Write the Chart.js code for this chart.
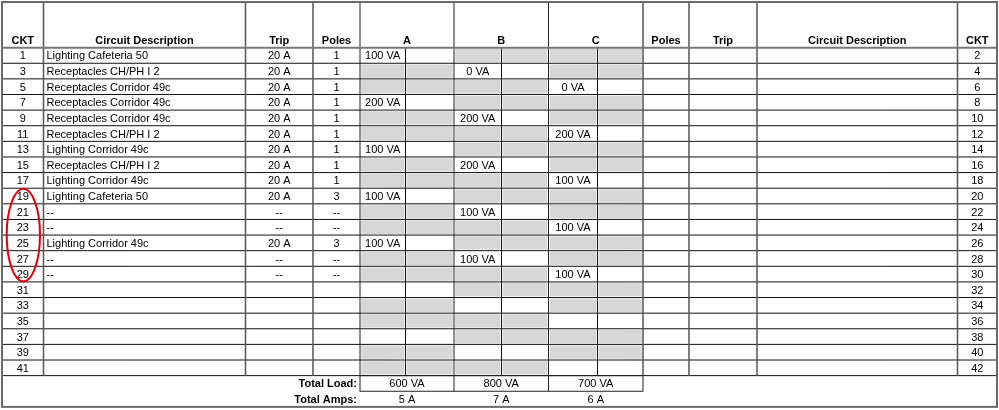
<!DOCTYPE html>
<html lang="en">
<head>
    <meta charset="UTF-8">
    <title>Panel Schedule</title>
    <script src="https://cdn.jsdelivr.net/npm/chart.js"></script>
    <style>
        html, body { margin: 0; padding: 0; background: #fff; }
        #wrap { position: relative; width: 999px; height: 410px; }
    </style>
</head>
<body>
    <div id="wrap"><canvas id="panelChart"></canvas></div>

    <script>
        // Left side (odd circuits)
        const leftCkt = [1, 3, 5, 7, 9, 11, 13, 15, 17, 19, 21, 23, 25, 27, 29, 31, 33, 35, 37, 39, 41];
        const leftDesc = ['Lighting Cafeteria 50', 'Receptacles CH/PH I 2', 'Receptacles Corridor 49c',
            'Receptacles Corridor 49c', 'Receptacles Corridor 49c', 'Receptacles CH/PH I 2',
            'Lighting Corridor 49c', 'Receptacles CH/PH I 2', 'Lighting Corridor 49c',
            'Lighting Cafeteria 50', '--', '--', 'Lighting Corridor 49c', '--', '--'];
        const leftTrip = ['20 A', '20 A', '20 A', '20 A', '20 A', '20 A', '20 A', '20 A', '20 A',
            '20 A', '--', '--', '20 A', '--', '--'];
        const leftPoles = ['1', '1', '1', '1', '1', '1', '1', '1', '1', '3', '--', '--', '3', '--', '--'];
        // load in VA; the phase follows the row (A, B, C, A, ...)
        const leftLoad = [100, 0, 0, 200, 200, 200, 100, 200, 100, 100, 100, 100, 100, 100, 100];

        // Right side (even circuits) - nothing connected
        const rightCkt = [2, 4, 6, 8, 10, 12, 14, 16, 18, 20, 22, 24, 26, 28, 30, 32, 34, 36, 38, 40, 42];

        const phases = ['A', 'B', 'C'];
        const totalLoad = [600, 800, 700];
        const totalAmps = [5, 7, 6];
        const headers = ['CKT', 'Circuit Description', 'Trip', 'Poles', 'A', 'B', 'C', 'Poles', 'Trip', 'Circuit Description', 'CKT'];
        const circledCkts = [19, 29];

        // column layout (x scale units)
        const colEdges = [2, 43.5, 245.5, 313, 360, 454, 548.5, 643, 689, 757, 957.5, 997];
        const subSplit = [405.5, 501.5, 597.5];
        const nRows = leftCkt.length;
        const headTop = -2.92;
        const FONT = '"Liberation Sans", Arial, sans-serif';

        // grey (unused) half cells of the phase columns
        const greyCells = [];
        for (let r = 0; r < nRows; r++) {
            phases.forEach((ph, p) => {
                if (p === r % 3) return;
                greyCells.push({ x: [colEdges[4 + p], subSplit[p]], y: r + 0.5 });
                greyCells.push({ x: [subSplit[p], colEdges[5 + p]], y: r + 0.5 });
            });
        }

        const tablePlugin = {
            id: 'panelTable',
            afterDatasetsDraw(chart) {
                const { ctx, scales: { x, y } } = chart;
                const X = v => x.getPixelForValue(v);
                const Y = v => y.getPixelForValue(v) + 1;   // text sits a touch low
                const YL = v => y.getPixelForValue(v);
                const mid = (a, b) => (X(a) + X(b)) / 2;

                ctx.save();
                ctx.fillStyle = '#000';
                ctx.textBaseline = 'middle';

                // headers
                ctx.font = 'bold 11px ' + FONT;
                ctx.textAlign = 'center';
                headers.forEach((h, i) => ctx.fillText(h, mid(colEdges[i], colEdges[i + 1]), Y(-0.5)));

                // rows
                ctx.font = '11px ' + FONT;
                for (let r = 0; r < nRows; r++) {
                    const yc = Y(r + 0.5);
                    ctx.textAlign = 'center';
                    ctx.fillText(String(leftCkt[r]), mid(colEdges[0], colEdges[1]), yc);
                    ctx.fillText(String(rightCkt[r]), mid(colEdges[10], colEdges[11]), yc);
                    if (leftTrip[r]) ctx.fillText(leftTrip[r], mid(colEdges[2], colEdges[3]), yc);
                    if (leftPoles[r]) ctx.fillText(leftPoles[r], mid(colEdges[3], colEdges[4]), yc);
                    if (leftLoad[r] != null) {
                        const p = r % 3;
                        ctx.fillText(leftLoad[r] + ' VA', mid(colEdges[4 + p], subSplit[p]), yc);
                    }
                    if (leftDesc[r]) {
                        ctx.textAlign = 'left';
                        ctx.fillText(leftDesc[r], X(colEdges[1]) + 3, yc);
                    }
                }

                // totals
                ctx.font = 'bold 11px ' + FONT;
                ctx.textAlign = 'right';
                ctx.fillText('Total Load:', X(colEdges[4]) - 3, Y(nRows + 0.5));
                ctx.fillText('Total Amps:', X(colEdges[4]) - 3, Y(nRows + 1.5));
                ctx.font = '11px ' + FONT;
                ctx.textAlign = 'center';
                phases.forEach((ph, p) => {
                    ctx.fillText(totalLoad[p] + ' VA', mid(colEdges[4 + p], colEdges[5 + p]), Y(nRows + 0.5));
                    ctx.fillText(totalAmps[p] + ' A', mid(colEdges[4 + p], colEdges[5 + p]), Y(nRows + 1.5));
                });

                const line = (x0, y0, x1, y1, color, w) => {
                    ctx.beginPath();
                    ctx.strokeStyle = color;
                    ctx.lineWidth = w;
                    ctx.moveTo(x0, y0);
                    ctx.lineTo(x1, y1);
                    ctx.stroke();
                };
                const L = X(colEdges[0]), R = X(colEdges[11]);

                // row lines
                for (let r = 1; r <= nRows; r++) line(L, YL(r), R, YL(r), '#111', 1);
                // phase half-cell splits
                subSplit.forEach(s => line(X(s), YL(0), X(s), YL(nRows), '#111', 1));
                // column lines
                for (let i = 1; i < colEdges.length - 1; i++) {
                    const dark = i >= 4 && i <= 6;
                    line(X(colEdges[i]), YL(headTop), X(colEdges[i]), YL(nRows), dark ? '#222' : '#555', dark ? 1 : 1.5);
                }
                // header bottom
                line(L, YL(0), R, YL(0), '#777', 2);

                // totals box
                ctx.strokeStyle = '#222';
                ctx.lineWidth = 1;
                ctx.strokeRect(X(colEdges[4]), YL(nRows), X(colEdges[7]) - X(colEdges[4]), YL(nRows + 1) - YL(nRows));
                line(X(colEdges[5]), YL(nRows), X(colEdges[5]), YL(nRows + 1), '#222', 1);
                line(X(colEdges[6]), YL(nRows), X(colEdges[6]), YL(nRows + 1), '#222', 1);

                // outer frame
                ctx.strokeStyle = '#6a6a6a';
                ctx.lineWidth = 2;
                ctx.strokeRect(L, YL(headTop), R - L, YL(nRows + 2) - YL(headTop));

                // red mark around circuits
                const r0 = leftCkt.indexOf(circledCkts[0]);
                const r1 = leftCkt.indexOf(circledCkts[1]) + 1;
                const ex0 = X(colEdges[0] + 4.7), ex1 = X(colEdges[1] - 3.5);
                ctx.beginPath();
                ctx.strokeStyle = '#e3000f';
                ctx.lineWidth = 2;
                ctx.ellipse((ex0 + ex1) / 2, (YL(r0) + YL(r1)) / 2, (ex1 - ex0) / 2, (YL(r1) - YL(r0)) / 2 - 0.5, 0, 0, Math.PI * 2);
                ctx.stroke();

                ctx.restore();
            }
        };

        const ctx = document.getElementById('panelChart').getContext('2d');
        new Chart(ctx, {
            type: 'bar',
            data: {
                datasets: [{
                    label: 'Unused',
                    data: greyCells,
                    backgroundColor: '#d7d7d7',
                    borderColor: '#ffffff',
                    borderWidth: 1.5,
                    borderSkipped: false,
                    grouped: false,
                    barPercentage: 1,
                    categoryPercentage: 1
                }]
            },
            options: {
                indexAxis: 'y',
                responsive: true,
                maintainAspectRatio: false,
                animation: false,
                layout: { padding: 0 },
                plugins: { legend: { display: false }, tooltip: { enabled: false } },
                scales: {
                    x: { type: 'linear', display: false, offset: false, min: 0, max: 999 },
                    y: { type: 'linear', display: false, offset: false, reverse: true, min: -3.05, max: 23.2 }
                }
            },
            plugins: [tablePlugin]
        });
    </script>
</body>
</html>
